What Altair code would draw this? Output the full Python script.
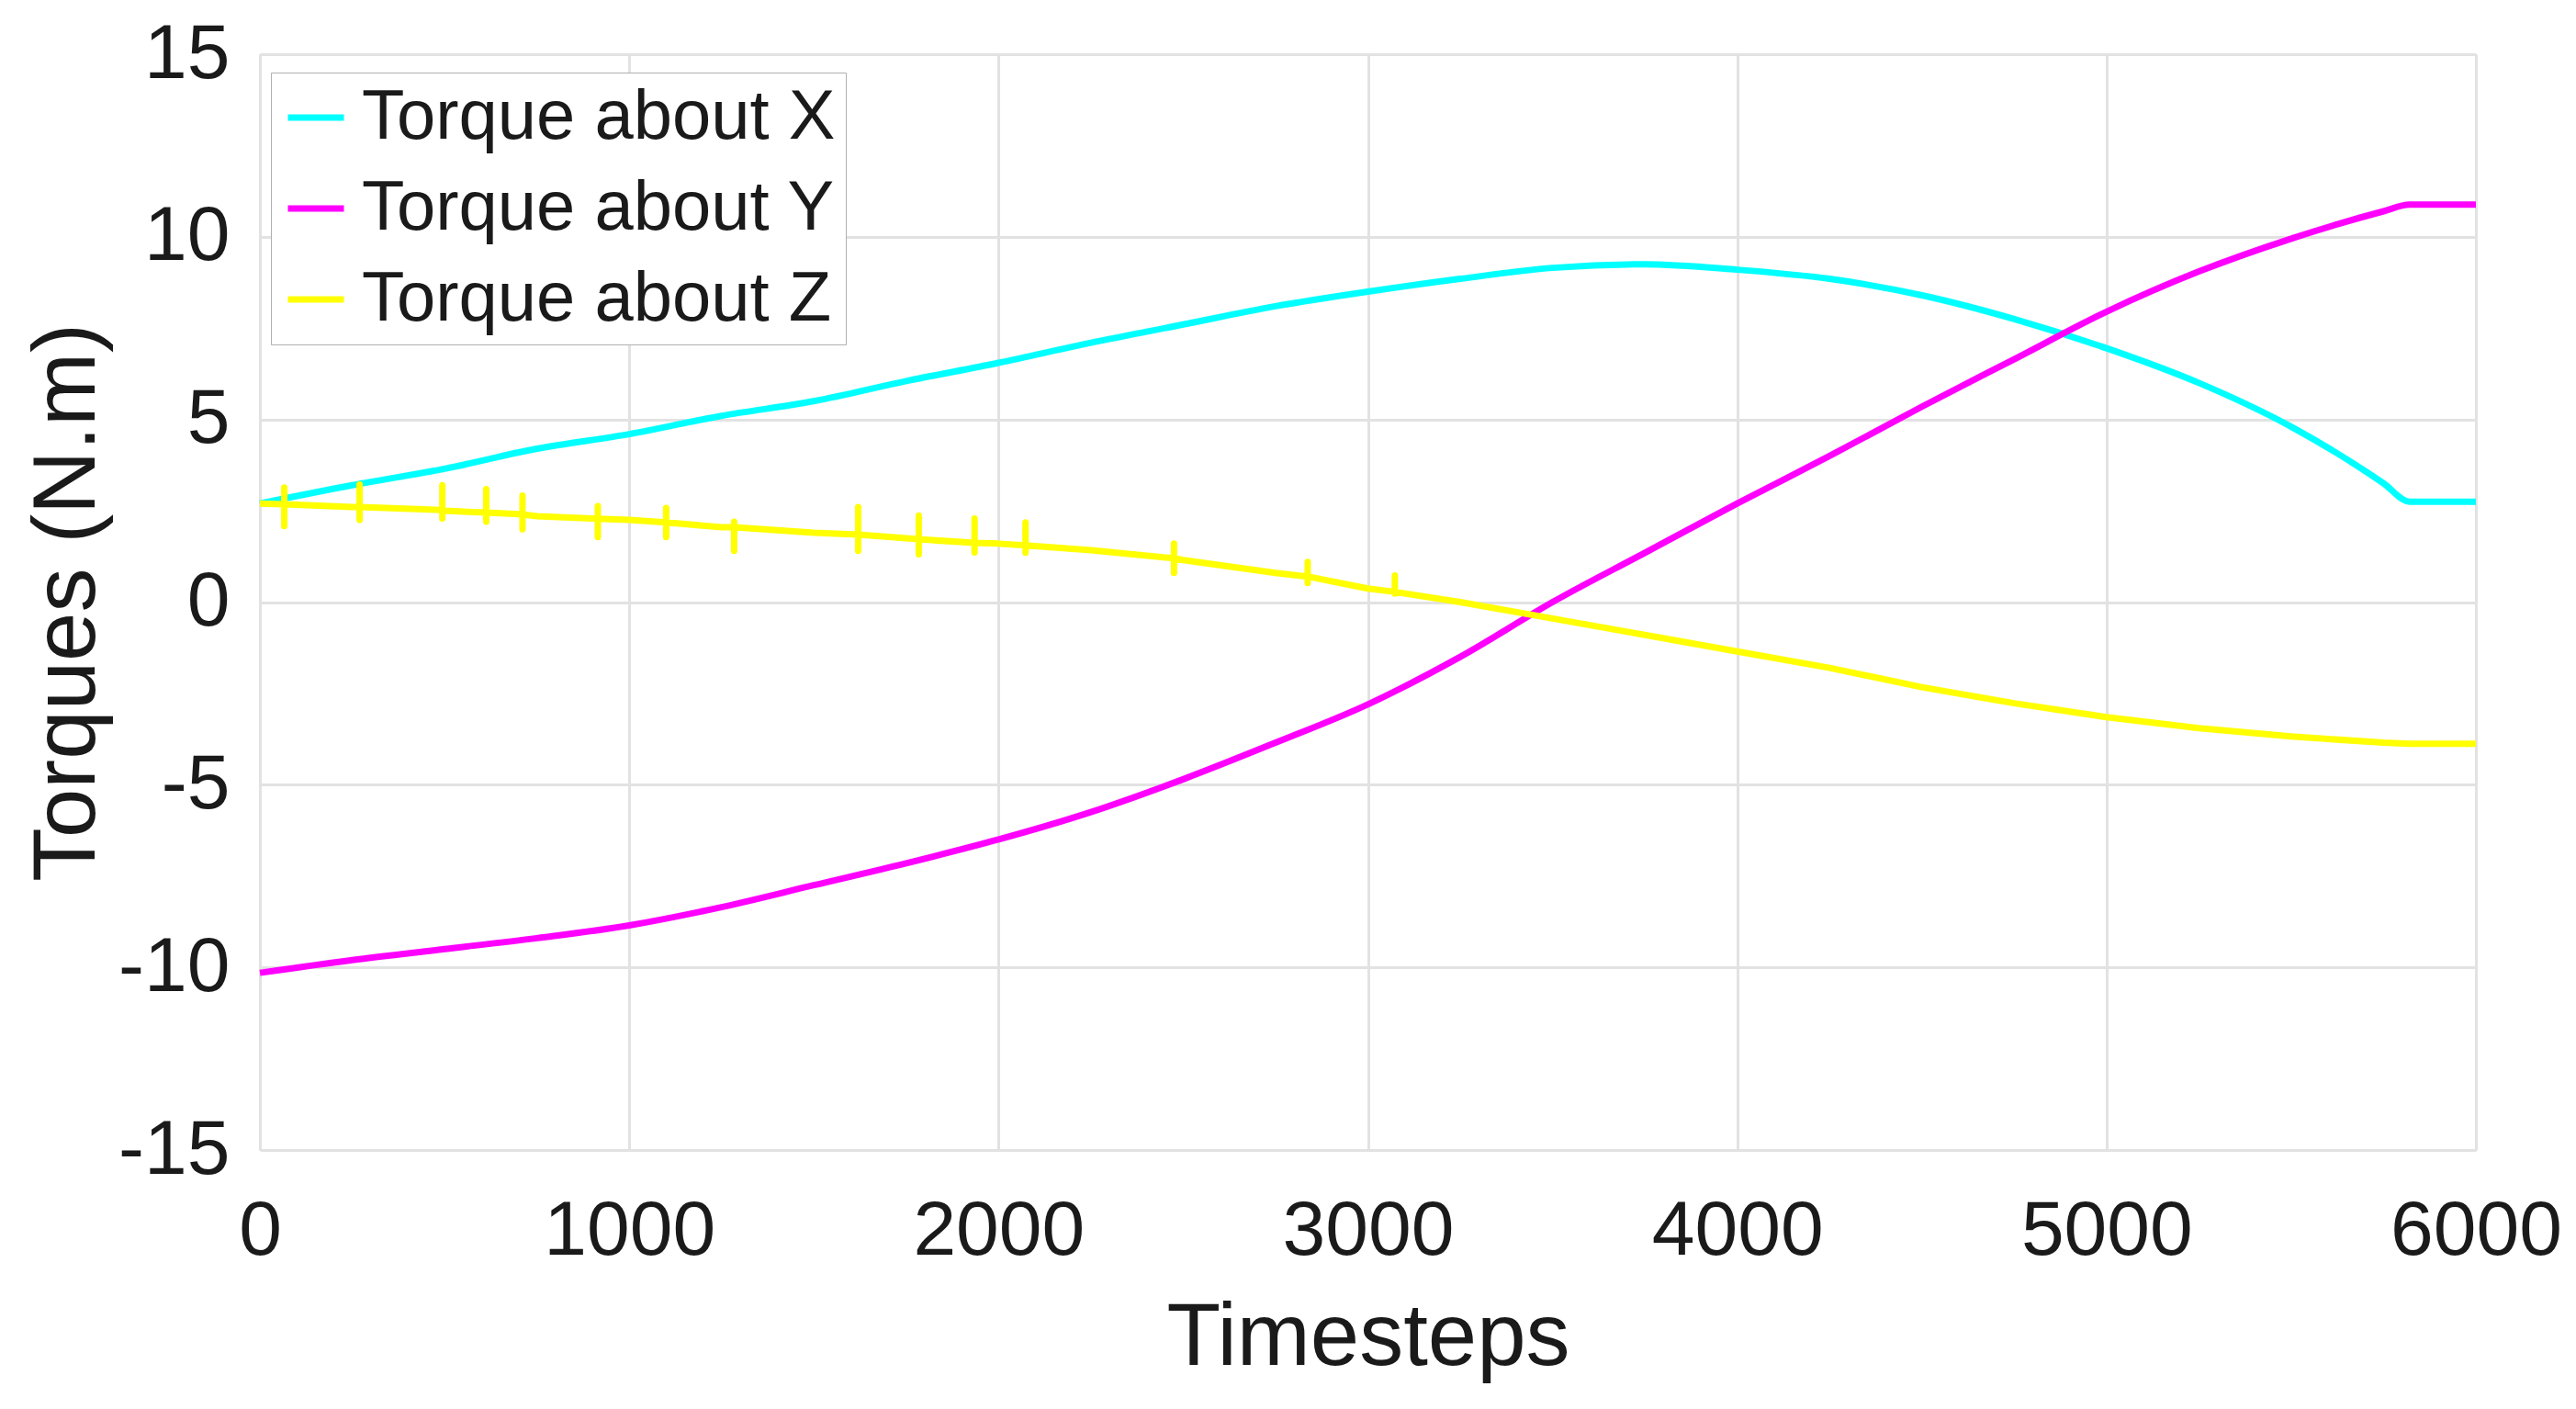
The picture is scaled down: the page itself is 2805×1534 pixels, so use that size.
import altair as alt
import pandas as pd

# ---- data ----
series_names = ["Torque about X", "Torque about Y", "Torque about Z"]
series_colors = ["#00FFFF", "#FF00FF", "#FFFF00"]

timesteps = [0, 250, 500, 750, 1000, 1250, 1500, 1750, 2000, 2250, 2500, 2750,
             3000, 3250, 3500, 3750, 4000, 4250, 4500, 4750, 5000, 5250, 5500,
             5750, 5820, 6000]

torque_x = [2.7, 3.2, 3.65, 4.2, 4.6, 5.1, 5.5, 6.05, 6.55, 7.1, 7.6, 8.1,
            8.5, 8.85, 9.15, 9.25, 9.1, 8.85, 8.4, 7.75, 6.95, 6.0, 4.8,
            3.25, 2.75, 2.75]

torque_y = [-10.15, -9.8, -9.5, -9.2, -8.85, -8.35, -7.75, -7.15, -6.5, -5.75,
            -4.85, -3.85, -2.8, -1.5, 0.0, 1.35, 2.7, 4.0, 5.35, 6.65, 7.95,
            9.05, 9.95, 10.7, 10.88, 10.88]

torque_z = [2.7, 2.6, 2.5, 2.35, 2.25, 2.05, 1.9, 1.75, 1.6, 1.42, 1.15, 0.8,
            0.37, 0.0, -0.45, -0.9, -1.35, -1.8, -2.33, -2.77, -3.15, -3.45,
            -3.68, -3.85, -3.88, -3.88]

# small spikes on the Z trace: position, local level, spike top, spike bottom
spike_x = [66, 270, 494, 613, 711, 915, 1100, 1284, 1620, 1784, 1935, 2073,
           2475, 2837, 3073]
spike_base = [2.68, 2.6, 2.52, 2.45, 2.4, 2.28, 2.18, 2.05, 1.85, 1.72, 1.62,
              1.55, 1.2, 0.7, 0.28]
spike_top = [3.14, 3.22, 3.2, 3.09, 2.92, 2.63, 2.58, 2.2, 2.6, 2.37, 2.29,
             2.18, 1.6, 1.1, 0.73]
spike_bottom = [2.08, 2.25, 2.29, 2.2, 1.99, 1.78, 1.78, 1.4, 1.4, 1.31, 1.36,
                1.35, 0.8, 0.52, 0.23]

x_ticks = [0, 1000, 2000, 3000, 4000, 5000, 6000]
y_ticks = [-15, -10, -5, 0, 5, 10, 15]

# ---- build long tables ----
rows_xy = []
for name, vals in [(series_names[0], torque_x), (series_names[1], torque_y)]:
    for t, v in zip(timesteps, vals):
        rows_xy.append({"series": name, "t": t, "v": v, "k": float(t)})

z_pts = [(t, v, float(t)) for t, v in zip(timesteps, torque_z)]
for sx, sb, st, sbo in zip(spike_x, spike_base, spike_top, spike_bottom):
    z_pts += [(sx, sb, sx + 0.1), (sx, st, sx + 0.2), (sx, sbo, sx + 0.3), (sx, sb, sx + 0.4)]
z_pts.sort(key=lambda p: p[2])
rows_z = [{"series": series_names[2], "t": t, "v": v, "k": k} for t, v, k in z_pts]

df_xy = pd.DataFrame(rows_xy)
df_z = pd.DataFrame(rows_z)

FONT = "Liberation Sans"
TXT = "#1a1a1a"
W, H = 2413, 1193

x_enc = alt.X("t:Q",
              scale=alt.Scale(domain=[0, 6000], nice=False, zero=False),
              axis=alt.Axis(values=x_ticks, labelExpr="'' + datum.value", title="Timesteps",
                            grid=True, gridColor="#e2e2e2", gridWidth=3,
                            domain=False, ticks=False, tickSize=0,
                            labelFont=FONT, labelFontSize=84, labelColor=TXT,
                            labelPadding=47, labelBaseline="top", labelAlign="center",
                            labelFlush=False, labelLimit=1000, labelOverlap=False,
                            titleFont=FONT, titleFontSize=96, titleFontWeight="normal",
                            titleColor=TXT, titleX=W / 2, titleY=233,
                            titleBaseline="alphabetic", titleAlign="center"))
y_enc = alt.Y("v:Q",
              scale=alt.Scale(domain=[-15, 15], nice=False, zero=False),
              axis=alt.Axis(values=y_ticks, labelExpr="'' + datum.value", title="Torques (N.m)",
                            grid=True, gridColor="#e2e2e2", gridWidth=3,
                            domain=False, ticks=False, tickSize=0,
                            labelFont=FONT, labelFontSize=84, labelColor=TXT,
                            labelPadding=33, labelFlush=False, labelLimit=1000,
                            labelOverlap=False,
                            titleFont=FONT, titleFontSize=96, titleFontWeight="normal",
                            titleColor=TXT, titleAngle=-90, titleX=-181, titleY=H / 2,
                            titleBaseline="alphabetic", titleAlign="center"))
c_enc = alt.Color("series:N",
                  scale=alt.Scale(domain=series_names, range=series_colors),
                  sort=series_names,
                  legend=alt.Legend(title=None, orient="none", legendX=12, legendY=20,
                                    padding=11, fillColor="white",
                                    strokeColor="#b0b0b0",
                                    symbolType="stroke", symbolSize=3721,
                                    symbolStrokeWidth=7, labelOffset=12,
                                    labelFont=FONT, labelFontSize=76, labelColor=TXT,
                                    labelLimit=0, rowPadding=23))

smooth = alt.Chart(df_xy).mark_line(strokeWidth=7, strokeCap="butt", strokeJoin="round",
                                    interpolate="monotone").encode(
    x=x_enc, y=y_enc, color=c_enc, order=alt.Order("k:Q"), detail="series:N")

zline = alt.Chart(df_z).mark_line(strokeWidth=7, strokeCap="butt", strokeJoin="round").encode(
    x=x_enc, y=y_enc, color=c_enc, order=alt.Order("k:Q"), detail="series:N")

chart = alt.layer(smooth, zline).properties(
    width=W, height=H,
    autosize=alt.AutoSizeParams(type="none"),
    padding={"left": 275, "top": 51, "right": 101, "bottom": 274},
).configure_view(
    stroke="#4a4a4a", strokeWidth=4
).configure_legend(
    strokeWidth=3
).configure(background="white")

chart.save("out.html", embed_options={"renderer": "svg", "actions": False})
